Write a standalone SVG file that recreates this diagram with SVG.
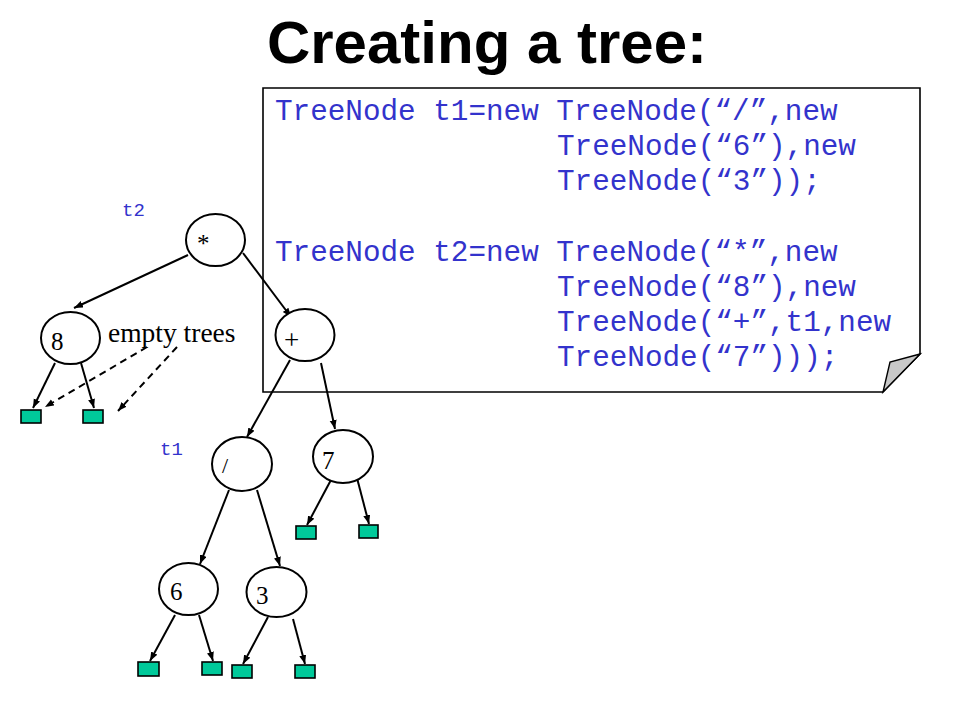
<svg xmlns="http://www.w3.org/2000/svg" width="960" height="720" viewBox="0 0 960 720">
<defs>
<marker id="ah" markerUnits="userSpaceOnUse" markerWidth="10" markerHeight="8" refX="9" refY="3.5" orient="auto">
<path d="M0,0 L9,3.5 L0,7 z" fill="#000"/>
</marker>
<style>
.title{font-family:"Liberation Sans",Arial,sans-serif;font-weight:bold;font-size:60px;fill:#000}
.code{font-family:"Liberation Mono","Courier New",monospace;font-size:29.3px;fill:#3333cc}
.var{font-family:"Liberation Mono","Courier New",monospace;font-size:19px;fill:#3333cc}
.lbl{font-family:"Liberation Serif","Times New Roman",serif;font-size:25px;fill:#000}
.node ellipse{fill:#fff;stroke:#000;stroke-width:2}
.leaf rect{fill:#00c99a;stroke:#000;stroke-width:1.6}
.edge line{stroke:#000;stroke-width:2;marker-end:url(#ah)}
.dash{stroke-dasharray:7,5}
</style>
</defs>
<rect width="960" height="720" fill="#fff"/>
<text class="title" x="487" y="63" text-anchor="middle">Creating a tree:</text>

<g id="note">
<path d="M263,88 H920 V354 L883,392 H263 Z" fill="#fff" stroke="#000" stroke-width="1.6"/>
<path d="M920,354 L890,362 L883,392 Z" fill="#c8c8c8" stroke="#000" stroke-width="1.4"/>
<text class="code" x="275" y="120" xml:space="preserve">TreeNode t1=new TreeNode(“/”,new</text>
<text class="code" x="557" y="155">TreeNode(“6”),new</text>
<text class="code" x="557" y="190">TreeNode(“3”));</text>
<text class="code" x="275" y="261" xml:space="preserve">TreeNode t2=new TreeNode(“*”,new</text>
<text class="code" x="557" y="296">TreeNode(“8”),new</text>
<text class="code" x="557" y="331">TreeNode(“+”,t1,new</text>
<text class="code" x="557" y="366">TreeNode(“7”)));</text>
</g>

<text class="var" x="122" y="216">t2</text>
<text class="var" x="160" y="455">t1</text>
<text class="lbl" x="108" y="342" style="font-size:27.5px">empty trees</text>

<g id="connectors" class="edge">
<line x1="188" y1="255" x2="74" y2="308"/>
<line x1="243" y1="253" x2="291" y2="317"/>
<line x1="55" y1="363" x2="33" y2="408"/>
<line x1="81" y1="363" x2="94" y2="408"/>
<line x1="290" y1="360" x2="247" y2="437"/>
<line x1="321" y1="363" x2="335" y2="429"/>
<line x1="229" y1="490" x2="200" y2="564"/>
<line x1="257" y1="490" x2="280" y2="566"/>
<line x1="332" y1="478" x2="307" y2="525"/>
<line x1="357" y1="478" x2="369" y2="524"/>
<line x1="175" y1="615" x2="150" y2="661"/>
<line x1="199" y1="615" x2="213" y2="661"/>
<line x1="268" y1="617" x2="243" y2="664"/>
<line x1="293" y1="619" x2="305" y2="664"/>
<line class="dash" x1="147" y1="347" x2="45" y2="407"/>
<line class="dash" x1="177" y1="347" x2="118" y2="411"/>
</g>

<g id="n_star" class="node"><ellipse cx="215.5" cy="240" rx="29.5" ry="26"/><text class="lbl" x="197" y="252">*</text></g>
<g id="n_8" class="node"><ellipse cx="70.5" cy="338" rx="29.5" ry="26"/><text class="lbl" x="51" y="350">8</text></g>
<g id="n_plus" class="node"><ellipse cx="305" cy="335" rx="29.5" ry="26"/><text class="lbl" x="284" y="349" style="font-size:27px">+</text></g>
<g id="n_div" class="node"><ellipse cx="242" cy="464" rx="30" ry="27"/><text class="lbl" x="222" y="473" style="font-size:22px">/</text></g>
<g id="n_7" class="node"><ellipse cx="343" cy="456.5" rx="30" ry="26.5"/><text class="lbl" x="322" y="469">7</text></g>
<g id="n_6" class="node"><ellipse cx="188.5" cy="589" rx="29.5" ry="26"/><text class="lbl" x="170" y="600">6</text></g>
<g id="n_3" class="node"><ellipse cx="276.5" cy="592" rx="30" ry="25"/><text class="lbl" x="256" y="604">3</text></g>

<g id="leaf_8L" class="leaf"><rect x="21" y="410" width="20" height="13"/></g>
<g id="leaf_8R" class="leaf"><rect x="83" y="410" width="20" height="13"/></g>
<g id="leaf_7L" class="leaf"><rect x="296" y="526" width="20" height="13"/></g>
<g id="leaf_7R" class="leaf"><rect x="359" y="525" width="19" height="13"/></g>
<g id="leaf_6L" class="leaf"><rect x="138" y="662" width="21" height="14"/></g>
<g id="leaf_6R" class="leaf"><rect x="202" y="662" width="20" height="13"/></g>
<g id="leaf_3L" class="leaf"><rect x="232" y="665" width="20" height="13"/></g>
<g id="leaf_3R" class="leaf"><rect x="295" y="665" width="20" height="13"/></g>
</svg>
